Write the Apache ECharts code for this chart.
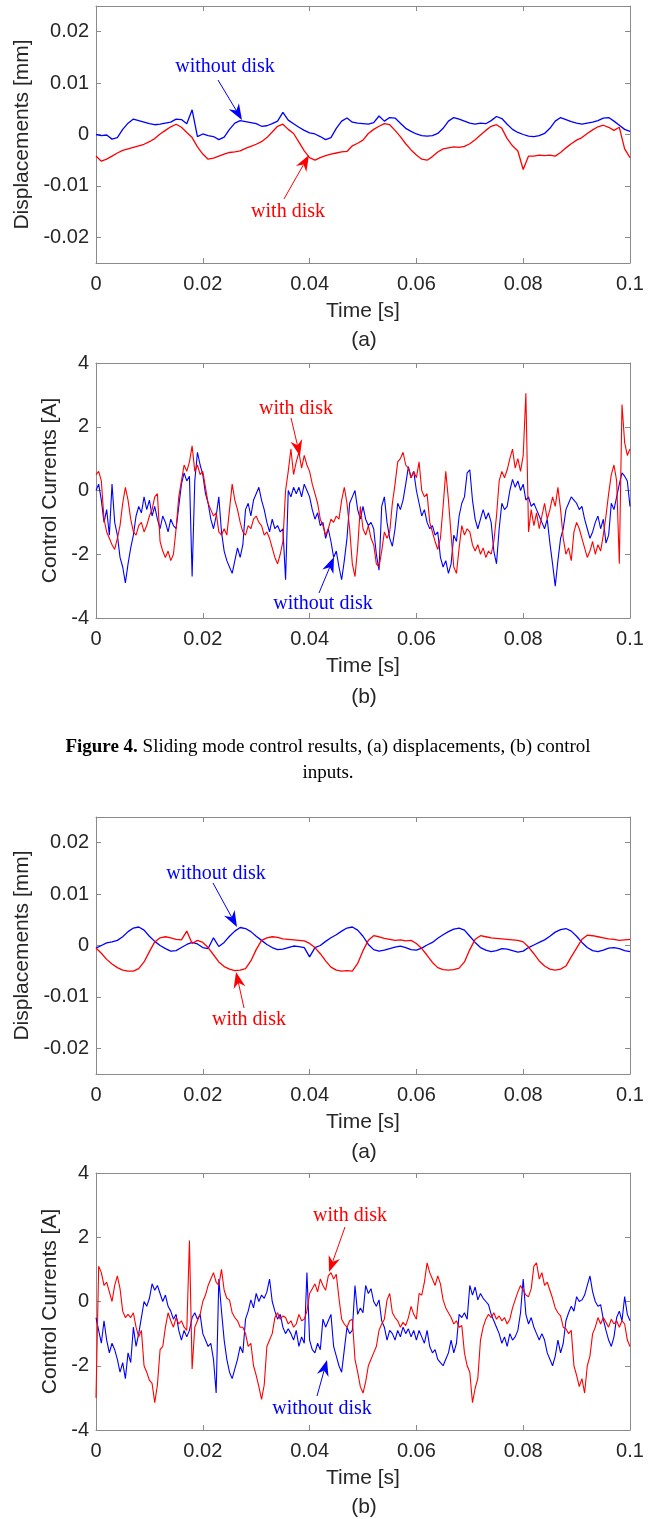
<!DOCTYPE html>
<html lang="en">
<head>
<meta charset="UTF-8">
<title>Sliding mode control results</title>
<script src="https://cdn.jsdelivr.net/npm/echarts@6/dist/echarts.min.js"></script>
<style>
  html, body { margin: 0; padding: 0; background: #fff; }
  #chart { width: 657px; height: 1519px; }
</style>
</head>
<body>
<div id="chart"></div>
<script>
// sample steps [s]
var dispStep = 0.001;
var curStep = 0.0005;

// tick labels
var timeTicks = [0, 0.02, 0.04, 0.06, 0.08, 0.1];
var dispTicks = [-0.02, -0.01, 0, 0.01, 0.02];
var curTicks = [-4, -2, 0, 2, 4];

// figure 4 (a): displacements [mm], sliding mode control
var dispA_without = [
  0.0000, -0.0002, -0.0001, -0.0009, -0.0006, 0.0010, 0.0022, 0.0030, 0.0027, 0.0024,
  0.0021, 0.0019, 0.0020, 0.0022, 0.0024, 0.0030, 0.0029, 0.0021, 0.0048, -0.0004,
  0.0001, -0.0002, -0.0004, -0.0010, -0.0005, 0.0010, 0.0022, 0.0027, 0.0025, 0.0023,
  0.0021, 0.0016, 0.0017, 0.0021, 0.0026, 0.0043, 0.0028, 0.0021, 0.0014, 0.0008,
  0.0003, 0.0001, -0.0004, -0.0010, -0.0006, 0.0012, 0.0026, 0.0032, 0.0024, 0.0022,
  0.0021, 0.0020, 0.0023, 0.0036, 0.0026, 0.0033, 0.0032, 0.0022, 0.0012, 0.0006,
  0.0001, -0.0002, -0.0003, -0.0002, 0.0002, 0.0012, 0.0026, 0.0033, 0.0030, 0.0026,
  0.0022, 0.0020, 0.0022, 0.0021, 0.0027, 0.0035, 0.0031, 0.0020, 0.0010, 0.0004,
  0.0000, -0.0003, -0.0004, -0.0002, 0.0002, 0.0012, 0.0026, 0.0033, 0.0029, 0.0025,
  0.0022, 0.0020, 0.0022, 0.0024, 0.0027, 0.0032, 0.0033, 0.0026, 0.0018, 0.0010,
  0.0006
];
var dispA_with = [
  -0.0042, -0.0052, -0.0048, -0.0042, -0.0036, -0.0031, -0.0028, -0.0025, -0.0022, -0.0019,
  -0.0014, -0.0008, 0.0001, 0.0008, 0.0015, 0.0020, 0.0014, 0.0004, -0.0006, -0.0024,
  -0.0038, -0.0048, -0.0046, -0.0042, -0.0038, -0.0035, -0.0034, -0.0032, -0.0027, -0.0023,
  -0.0019, -0.0014, -0.0006, 0.0005, 0.0016, 0.0020, 0.0010, 0.0002, -0.0015, -0.0032,
  -0.0045, -0.0050, -0.0045, -0.0041, -0.0038, -0.0036, -0.0034, -0.0033, -0.0022, -0.0017,
  -0.0011, 0.0002, 0.0010, 0.0016, 0.0021, 0.0019, 0.0008, -0.0004, -0.0018, -0.0030,
  -0.0040, -0.0048, -0.0050, -0.0043, -0.0034, -0.0028, -0.0026, -0.0024, -0.0025, -0.0023,
  -0.0018, -0.0010, -0.0001, 0.0008, 0.0016, 0.0019, 0.0012, -0.0008, -0.0022, -0.0032,
  -0.0068, -0.0042, -0.0042, -0.0040, -0.0041, -0.0040, -0.0042, -0.0035, -0.0026, -0.0018,
  -0.0011, -0.0006, 0.0002, 0.0009, 0.0015, 0.0018, 0.0014, 0.0008, 0.0014, -0.0028,
  -0.0045
];

// figure 4 (b): control currents [A]
var curA_without = [
  0.0, 0.2, -0.3, -1.0, -0.6, -1.4, 0.2, -1.0, -1.4, -2.1,
  -2.4, -2.9, -2.3, -1.8, -1.4, -0.8, -0.5, -0.7, -0.2, -0.6,
  -0.3, -0.8, -0.5, -0.9, -1.2, -0.8, -1.0, -1.3, -0.9, -1.1,
  -1.2, -0.5, 0.2, 0.55, 0.3, 0.45, -2.7, 0.3, 1.2, 0.8,
  0.5, -0.1, -0.4, -0.9, -1.2, -0.8, -0.2, -1.3, -1.9, -2.2,
  -2.4, -2.6, -2.2, -1.8, -2.1, -1.7, -0.6, -0.4, -0.8, -0.3,
  -0.1, 0.1, -0.3, -0.6, -1.0, -1.3, -0.9, -1.2, -1.1, -1.3,
  -1.2, -2.8, 0.0, -0.2, 0.1, -0.1, 0.1, -0.2, 0.2, 0.0,
  -0.2, -0.6, -0.9, -0.7, -1.1, -1.0, -1.5, -1.2, -1.6, -2.1,
  -1.9, -2.4, -2.8, -2.2, -1.5, -0.4, -0.2, 0.0, -0.6, -0.9,
  -0.5, -0.9, -1.1, -1.0, -1.2, -2.0, -2.5, -0.5, -0.2, -1.0,
  -1.5, -1.75, -1.2, -0.4, -0.6, -0.3, 0.2, 0.75, 0.4, 0.6,
  0.0, -0.4, -0.8, -0.6, -1.0, -1.2, -1.1, -1.4, -1.3, -2.1,
  -2.4, -2.2, -2.6, -2.3, -1.4, -1.6, -0.8, -0.4, -0.2, 0.55,
  0.65, -0.3, -0.9, -1.2, -0.9, -0.6, -0.9, -0.7, -1.0, -1.9,
  -2.3, -1.2, -0.4, -0.6, -0.5, 0.0, 0.35, 0.1, 0.3, 0.0,
  0.2, -0.3, -0.2, -0.5, -0.4, -0.6, -0.8, -1.0, -1.2, -0.9,
  -1.65, -2.3, -3.0, -2.2, -1.5, -1.2, -0.6, -0.4, -0.2, -0.3,
  -0.4, -0.6, -0.5, -0.9, -1.2, -1.5, -1.3, -1.0, -0.8, -1.2,
  -0.9, -1.65, -1.4, -0.4, -0.6, -0.2, 0.2, 0.55, 0.45, 0.3,
  -0.5
];
var curA_with = [
  0.5, 0.6, 0.3, -0.9, -1.3, -1.5, -1.7, -1.85, -1.5, -1.1,
  -0.4, 0.1, -0.3, -0.9, -1.3, -1.4, -1.1, -1.0, -1.3, -1.1,
  -0.8, -0.6, -0.2, -0.1, -1.6, -1.9, -2.1, -1.9, -2.2, -2.0,
  -1.2, -0.2, 0.3, 0.8, 0.6, 0.9, 1.4, 0.6, 0.8, 0.5,
  0.6, 0.1, -0.4, -0.6, -0.8, -0.7, -1.3, -1.4, -1.2, -1.4,
  -0.6, 0.2, -0.3, -0.6, -1.0, -1.3, -1.4, -1.1, -1.2, -0.9,
  -0.8, -1.0, -1.1, -1.4, -1.3, -1.5, -1.8, -2.1, -2.3, -2.0,
  -1.6, 0.0, 0.6, 1.3, 0.5, 0.9, 1.2, 0.7, 1.1, 0.8,
  0.6, 0.2, -0.1, -0.4, -0.9, -1.1, -1.4, -1.2, -0.9, -1.0,
  -0.8, -0.9, -0.3, 0.1, -0.4, -1.2, -2.3, -2.7, -1.8, -0.5,
  -1.2, -1.4, -1.1, -1.5, -1.7, -2.3, -2.4, -1.9, -1.3, -1.5,
  -1.3, -0.4, 0.2, 0.9, 1.0, 1.2, 0.8, 0.7, 0.4, 0.6,
  0.4, 0.9, 0.0, -0.2, -0.1, -1.0, -1.3, -1.6, -1.85, -1.5,
  -0.5, 0.6, -0.3, -1.4, -2.4, -2.6, -1.8, -1.1, -1.4, -1.2,
  -1.3, -1.7, -1.9, -1.7, -2.0, -1.8, -2.1, -1.9, -2.0, -1.6,
  -0.8, 0.3, 0.6, 0.4, 0.65, 1.0, 1.3, 0.7, 1.0, 0.6,
  1.1, 3.05, -1.3, -0.6, -1.1, -0.7, -1.2, -0.8, -0.4, -0.9,
  -0.6, -0.2, -0.5, 0.1, -0.6, -1.5, -2.0, -1.8, -2.2, -1.3,
  -1.0, -1.2, -1.5, -1.8, -2.1, -1.9, -1.6, -2.0, -1.7, -1.9,
  -1.4, -0.8, -0.1, 0.5, 0.8, 0.3, -2.3, 2.7, 1.5, 1.1,
  1.3
];

// second controller (a): displacements [mm]
var dispB_without = [
  -0.0005, 0.0000, 0.0005, 0.0007, 0.0010, 0.0017, 0.0027, 0.0034, 0.0036, 0.0030,
  0.0018, 0.0008, 0.0000, -0.0006, -0.0011, -0.0010, -0.0004, 0.0002, 0.0006, 0.0003,
  -0.0004, -0.0006, 0.0015, -0.0002, 0.0006, 0.0018, 0.0028, 0.0035, 0.0033, 0.0027,
  0.0018, 0.0010, 0.0002, -0.0004, -0.0008, -0.0007, -0.0004, -0.0001, -0.0002, -0.0004,
  -0.0022, -0.0004, 0.0000, 0.0008, 0.0015, 0.0021, 0.0028, 0.0034, 0.0036, 0.0030,
  0.0018, 0.0002, -0.0008, -0.0011, -0.0009, -0.0006, -0.0003, -0.0001, -0.0004, -0.0008,
  -0.0009, -0.0005, 0.0001, 0.0006, 0.0014, 0.0021, 0.0027, 0.0032, 0.0034, 0.0030,
  0.0018, 0.0006, -0.0004, -0.0009, -0.0012, -0.0010, -0.0006, -0.0007, -0.0010, -0.0013,
  -0.0011, -0.0004, 0.0001, 0.0006, 0.0011, 0.0018, 0.0026, 0.0031, 0.0033, 0.0028,
  0.0018, 0.0006, -0.0004, -0.0010, -0.0012, -0.0009, -0.0005, -0.0004, -0.0006, -0.0010,
  -0.0012
];
var dispB_with = [
  -0.0005, -0.0015, -0.0027, -0.0036, -0.0043, -0.0048, -0.0050, -0.0050, -0.0045, -0.0032,
  -0.0012, 0.0007, 0.0015, 0.0017, 0.0015, 0.0012, 0.0011, 0.0028, 0.0004, 0.0010,
  0.0006, -0.0004, -0.0018, -0.0032, -0.0041, -0.0046, -0.0049, -0.0048, -0.0045, -0.0030,
  -0.0008, 0.0010, 0.0015, 0.0017, 0.0016, 0.0013, 0.0012, 0.0011, 0.0010, 0.0009,
  0.0004, -0.0004, -0.0016, -0.0030, -0.0042, -0.0048, -0.0050, -0.0049, -0.0050, -0.0035,
  -0.0010, 0.0010, 0.0019, 0.0017, 0.0014, 0.0012, 0.0010, 0.0011, 0.0009, 0.0010,
  0.0004, -0.0006, -0.0019, -0.0033, -0.0043, -0.0047, -0.0048, -0.0047, -0.0044, -0.0032,
  -0.0008, 0.0012, 0.0019, 0.0017, 0.0015, 0.0014, 0.0013, 0.0012, 0.0011, 0.0010,
  0.0007, -0.0003, -0.0016, -0.0030, -0.0040, -0.0046, -0.0048, -0.0046, -0.0040, -0.0022,
  -0.0005, 0.0012, 0.0020, 0.0019, 0.0017, 0.0015, 0.0013, 0.0012, 0.0010, 0.0011,
  0.0012
];

// second controller (b): control currents [A]
var curB_without = [
  -0.5, -0.9, -1.3, -0.6, -1.2, -1.6, -1.3, -1.5, -1.8, -2.2,
  -1.9, -2.4, -1.6, -1.9, -0.8, -1.4, -1.0, -0.5, 0.0, -0.15,
  0.1, 0.55, 0.35, 0.5, 0.25, 0.0, 0.2, -0.15, -0.3, -0.55,
  -0.4, -0.9, -1.2, -0.9, -1.1, -0.9, -0.5, -0.35, -0.55, -0.4,
  -1.0, -1.2, -1.4, -1.3, -1.8, -2.85, 0.7, -0.3, -1.2, -1.8,
  -2.2, -2.4, -2.1, -1.8, -1.4, -1.6, -0.55, -0.3, 0.05, -0.2,
  0.25, 0.0, 0.2, 0.1, 0.3, 0.7, 0.0, -0.3, -0.55, -0.4,
  -0.8, -1.0, -0.85, -1.0, -1.2, -0.9, -1.4, -1.1, -1.3, 0.9,
  -1.2, -1.5, -1.6, -1.3, -1.5, -0.55, -0.8, -0.6, -0.4, -1.4,
  -1.7, -2.0, -2.2, -1.5, -0.8, -1.0, -0.9, 0.5, -0.4, -0.2,
  -0.35, 0.5, 0.25, 0.4, 0.0, -0.15, 0.05, -0.6, -0.8, -1.2,
  -0.9, -1.0, -1.2, -0.9, -1.1, -0.8, -1.0, -0.85, -1.1, -0.9,
  -1.2, -0.9, -1.1, -1.3, -0.9, -1.4, -1.6, -1.5, -1.8, -1.9,
  -2.0, -1.8, -1.6, -1.2, -1.6, -1.3, -0.4, -0.5, -0.35, -0.55,
  0.5, 0.2, 0.45, 0.05, 0.25, 0.1, 0.0, -0.1, -0.4, -0.6,
  -0.8, -1.0, -1.3, -1.1, -1.4, -1.0, -1.2, -1.1, -0.9, -0.35,
  0.7, -0.4, -0.7, -0.5, -0.8, -1.0, -1.2, -1.0, -1.2, -1.6,
  -1.8, -2.0, -1.7, -1.2, -1.6, -1.3, -0.6, -0.35, -0.15, -0.3,
  0.15, 0.0, 0.05, 0.2, 0.5, 0.8, 0.3, 0.0, -0.15, -0.1,
  -0.55, -0.9, -1.2, -1.4, -1.1, -0.5, -0.3, -0.6, 0.15, -0.4,
  -0.6
];
var curB_with = [
  -3.0, 1.1, 0.9, 0.5, 0.6, 0.3, 0.0, 0.5, 0.8, 0.4,
  -0.3, -0.5, -0.4, -0.5, -0.35, -0.8, -1.1, -0.9, -2.0, -2.2,
  -2.45, -2.55, -3.15, -2.6, -1.5, -1.4, -0.8, -0.35, -0.6, -0.8,
  -0.5, -0.7, -0.6, -0.8, -0.9, 1.9, -2.1, -0.8, -0.6, -0.4,
  0.0, 0.2, 0.5, 0.7, 0.9, 0.6, 0.5, 1.0, 0.35, 0.1,
  0.05, -0.35, -0.5, -0.6, -0.8, -0.8, -1.0, -1.4, -1.3, -2.0,
  -2.3, -2.65, -3.05, -2.6, -1.4, -1.2, -1.0, -0.5, -0.35, -0.55,
  -0.45, -0.5, -0.7, -0.6, -0.8, -0.7, -0.4, -0.6, -0.55, -0.3,
  0.25, 0.4, 0.55, 0.3, 0.7, 0.5, 0.35, 0.8, 0.9, 0.7,
  0.85, 0.1, -0.55, -0.7, -0.8, -0.6, -0.55, -1.8, -2.2, -2.65,
  -2.85, -2.5, -2.0, -1.8, -1.6, -1.4, -0.9, -0.7, -0.55, 0.05,
  0.25, -0.35, -0.5, -0.6, -0.8, -0.65, -0.75, -0.5, -0.15, -0.4,
  -0.55, 0.25, 0.2, 0.6, 1.2, 0.9, 0.7, 0.5, 0.8, 0.55,
  0.05, -0.2, -0.35, -0.5, -0.7, -0.6, -0.8, -0.75, -1.6, -2.0,
  -2.2, -3.15, -2.7, -2.4, -1.2, -0.8, -0.55, -0.4, -0.5, -0.35,
  -0.55, -0.45, -0.6, -0.5, -0.7, -0.55, -0.2, 0.05, 0.3, 0.5,
  0.35, 0.2, 0.15, 0.4, 1.1, 1.2, 0.7, 0.9, 0.5, 0.6,
  0.35, 0.1, -0.2, -0.35, -0.45, -0.8, -0.85, -1.0, -0.9, -2.0,
  -2.3, -2.65, -2.4, -2.85, -2.0, -1.7, -1.0, -0.8, -0.5, -0.7,
  -0.5, -0.65, -0.8, -0.55, -0.7, -0.6, -0.8, -0.6, -0.7, -1.2,
  -1.4
];

// arrow annotations in data coordinates of each panel
var notes = [
  { grid: 0, text: 'without disk', color: '#0000ff', at: [0.02416, 0.01313], from: [0.02285, 0.0106], to: [0.02734, 0.00282] },
  { grid: 0, text: 'with disk', color: '#ff0000', at: [0.03596, -0.01508], from: [0.0352, -0.01255], to: [0.03989, -0.00399] },
  { grid: 1, text: 'with disk', color: '#ff0000', at: [0.03745, 2.557], from: [0.03652, 2.275], to: [0.0382, 1.082] },
  { grid: 1, text: 'without disk', color: '#0000ff', at: [0.04251, -3.561], from: [0.04176, -3.216], to: [0.04457, -2.086] },
  { grid: 2, text: 'without disk', color: '#0000ff', at: [0.02247, 0.01391], from: [0.02191, 0.01216], to: [0.0264, 0.0036] },
  { grid: 2, text: 'with disk', color: '#ff0000', at: [0.02865, -0.01449], from: [0.02772, -0.01216], to: [0.02622, -0.00516] },
  { grid: 3, text: 'with disk', color: '#ff0000', at: [0.04757, 2.661], from: [0.04663, 2.319], to: [0.04363, 0.918] },
  { grid: 3, text: 'without disk', color: '#0000ff', at: [0.04232, -3.346], from: [0.04139, -2.942], to: [0.04326, -1.821] }
];

var sansFont = '"Liberation Sans", Arial, Helvetica, sans-serif';
var serifFont = '"Liberation Serif", "Times New Roman", serif';
var axisColor = '#8a8a8a';
var textColor = '#262626';

function toPairs(arr, step) {
  return arr.map(function (v, i) { return [+(i * step).toFixed(4), v]; });
}

var grids = [
  { left: 96, top: 6, width: 534, height: 257 },
  { left: 96, top: 363, width: 534, height: 255 },
  { left: 96, top: 817, width: 534, height: 257 },
  { left: 96, top: 1173, width: 534, height: 257 }
];

var panels = [
  { name: 'Displacements [mm]', gap: 60, ticks: dispTicks, min: -0.025, max: 0.025, without: dispA_without, withD: dispA_with, step: dispStep, lw: 1.3 },
  { name: 'Control Currents [A]', gap: 32, ticks: curTicks, min: -4, max: 4, without: curA_without, withD: curA_with, step: curStep, lw: 1.1 },
  { name: 'Displacements [mm]', gap: 60, ticks: dispTicks, min: -0.025, max: 0.025, without: dispB_without, withD: dispB_with, step: dispStep, lw: 1.3 },
  { name: 'Control Currents [A]', gap: 32, ticks: curTicks, min: -4, max: 4, without: curB_without, withD: curB_with, step: curStep, lw: 1.1 }
];

var xAxes = [], yAxes = [], series = [];
panels.forEach(function (p, g) {
  // bottom + top
  xAxes.push({
    type: 'value', gridIndex: g, min: 0, max: 0.1, interval: 0.02, position: 'bottom',
    name: 'Time [s]', nameLocation: 'middle', nameGap: 38,
    nameTextStyle: { fontFamily: sansFont, fontSize: 21, color: textColor },
    axisLine: { onZero: false, lineStyle: { color: axisColor } },
    axisTick: { inside: true, length: 5, lineStyle: { color: axisColor } },
    axisLabel: { margin: 11, fontFamily: sansFont, fontSize: 20, color: textColor },
    splitLine: { show: false }
  });
  xAxes.push({
    type: 'value', gridIndex: g, min: 0, max: 0.1, interval: 0.02, position: 'top',
    axisLine: { onZero: false, lineStyle: { color: axisColor } },
    axisTick: { inside: true, length: 5, lineStyle: { color: axisColor } },
    axisLabel: { show: false }, splitLine: { show: false }
  });
  // left + right
  yAxes.push({
    type: 'value', gridIndex: g, min: p.min, max: p.max, position: 'left',
    name: p.name, nameLocation: 'middle', nameGap: p.gap, nameRotate: 90,
    nameTextStyle: { fontFamily: sansFont, fontSize: 21, color: textColor },
    axisLine: { show: true, onZero: false, lineStyle: { color: axisColor } },
    axisTick: { show: true, inside: true, length: 5, customValues: p.ticks, lineStyle: { color: axisColor } },
    axisLabel: { margin: 7, fontFamily: sansFont, fontSize: 20, color: textColor, customValues: p.ticks },
    splitLine: { show: false }
  });
  yAxes.push({
    type: 'value', gridIndex: g, min: p.min, max: p.max, position: 'right',
    axisLine: { show: true, onZero: false, lineStyle: { color: axisColor } },
    axisTick: { show: true, inside: true, length: 5, customValues: p.ticks, lineStyle: { color: axisColor } },
    axisLabel: { show: false, customValues: p.ticks }, splitLine: { show: false }
  });
  series.push({
    type: 'line', xAxisIndex: 2 * g, yAxisIndex: 2 * g, data: toPairs(p.without, p.step),
    showSymbol: false, symbol: 'none', lineStyle: { color: '#0000ff', width: p.lw }, z: 2
  });
  series.push({
    type: 'line', xAxisIndex: 2 * g, yAxisIndex: 2 * g, data: toPairs(p.withD, p.step),
    showSymbol: false, symbol: 'none', lineStyle: { color: '#ff0000', width: p.lw }, z: 3
  });
});

var chart = echarts.init(document.getElementById('chart'));
chart.setOption({
  animation: false,
  backgroundColor: '#fff',
  grid: grids,
  xAxis: xAxes,
  yAxis: yAxes,
  series: series
});

// annotations, sub-labels and caption
var gfx = [];
notes.forEach(function (n) {
  var t = chart.convertToPixel({ gridIndex: n.grid }, n.at);
  var p1 = chart.convertToPixel({ gridIndex: n.grid }, n.from);
  var p2 = chart.convertToPixel({ gridIndex: n.grid }, n.to);
  var dx = p2[0] - p1[0], dy = p2[1] - p1[1];
  var len = Math.sqrt(dx * dx + dy * dy);
  var ux = dx / len, uy = dy / len, nx = -uy, ny = ux;
  var L = 16, W = 6, N = 5;
  var bx = p2[0] - ux * L, by = p2[1] - uy * L;
  var notch = [p2[0] - ux * (L - N), p2[1] - uy * (L - N)];
  gfx.push({
    type: 'text', x: t[0], y: t[1], z: 10,
    style: { text: n.text, fill: n.color, font: '20px ' + serifFont, align: 'center', verticalAlign: 'middle', textAlign: 'center', textVerticalAlign: 'middle' }
  });
  gfx.push({
    type: 'line', z: 10,
    shape: { x1: p1[0], y1: p1[1], x2: notch[0], y2: notch[1] },
    style: { stroke: n.color, lineWidth: 1 }
  });
  gfx.push({
    type: 'polygon', z: 10,
    shape: { points: [p2, [bx + nx * W, by + ny * W], notch, [bx - nx * W, by - ny * W]] },
    style: { fill: n.color }
  });
});

[['(a)', 340], ['(b)', 697], ['(a)', 1152], ['(b)', 1507]].forEach(function (s) {
  gfx.push({
    type: 'text', x: 364, y: s[1],
    style: { text: s[0], fill: textColor, font: '21px ' + sansFont, align: 'center', verticalAlign: 'middle', textAlign: 'center', textVerticalAlign: 'middle' }
  });
});

gfx.push({
  type: 'text', x: 328, y: 747,
  style: {
    text: '{b|Figure 4.} Sliding mode control results, (a) displacements, (b) control',
    fill: '#000', font: '19px ' + serifFont, align: 'center', verticalAlign: 'middle', textAlign: 'center', textVerticalAlign: 'middle',
    rich: { b: { fontWeight: 'bold', fontSize: 19, fontFamily: serifFont, fill: '#000' } }
  }
});
gfx.push({
  type: 'text', x: 328, y: 773,
  style: { text: 'inputs.', fill: '#000', font: '19px ' + serifFont, align: 'center', verticalAlign: 'middle', textAlign: 'center', textVerticalAlign: 'middle' }
});

chart.setOption({ graphic: gfx });
</script>
</body>
</html>
